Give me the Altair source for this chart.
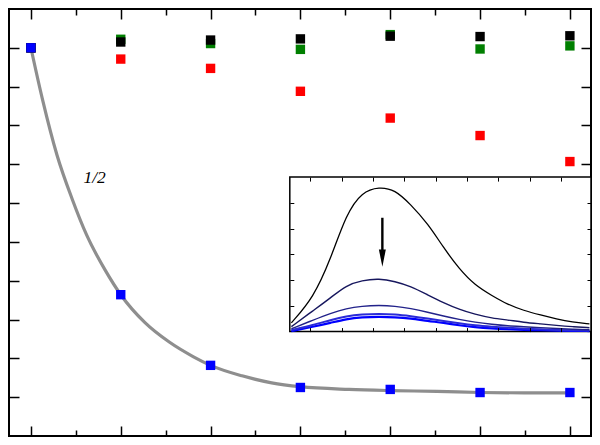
import altair as alt
import pandas as pd

# ---------------- main panel data ----------------
x_idx = [0, 1, 2, 3, 4, 5, 6]
blue_y = [1.000, 0.364, 0.182, 0.125, 0.120, 0.112, 0.112]
black_y = [1.000, 1.015, 1.020, 1.023, 1.030, 1.029, 1.031]
green_y = [1.000, 1.022, 1.011, 0.996, 1.034, 0.997, 1.005]
red_y = [1.000, 0.971, 0.947, 0.888, 0.819, 0.774, 0.707]

# grey fit curve
fit_x = [0, 0.13, 0.29, 0.46, 0.62, 0.83, 1.0, 1.27, 1.54, 1.81, 2.0, 2.35,
         2.68, 3.0, 3.54, 4.0, 4.52, 5.0, 5.49, 6.0]
fit_y = [1.000, 0.866, 0.724, 0.610, 0.518, 0.426, 0.364, 0.292, 0.242, 0.204,
         0.182, 0.155, 0.137, 0.127, 0.120, 0.117, 0.115, 0.112, 0.111, 0.111]

label_text = ["1/2"]
label_x = [0.71]
label_y = [0.665]

x_ticks = [0, 0.5, 1, 1.5, 2, 2.5, 3, 3.5, 4, 4.5, 5, 5.5, 6]
y_ticks = [0.1, 0.2, 0.3, 0.4, 0.5, 0.6, 0.7, 0.8, 0.9, 1.0]

# ---------------- inset data ----------------
wl = [428, 442, 453, 463, 473, 484, 494, 504, 515, 525, 535, 545, 556, 566,
      576, 587, 597, 607, 618]
spec1 = [0.34, 1.31, 2.81, 4.57, 5.43, 5.62, 5.51, 4.94, 4.19, 3.26, 2.43,
         1.80, 1.39, 1.05, 0.82, 0.64, 0.49, 0.37, 0.30]
spec2 = [0.19, 0.82, 1.31, 1.80, 1.99, 2.06, 1.95, 1.76, 1.42, 1.12, 0.86,
         0.67, 0.52, 0.45, 0.36, 0.30, 0.24, 0.19, 0.15]
spec3 = [0.11, 0.45, 0.71, 0.90, 0.99, 1.02, 0.99, 0.90, 0.75, 0.60, 0.47,
         0.36, 0.28, 0.22, 0.19, 0.15, 0.12, 0.09, 0.07]
spec4 = [0.06, 0.26, 0.45, 0.60, 0.67, 0.69, 0.67, 0.60, 0.51, 0.41, 0.32,
         0.24, 0.19, 0.15, 0.11, 0.09, 0.06, 0.05, 0.04]
spec5 = [0.02, 0.19, 0.34, 0.49, 0.56, 0.58, 0.56, 0.51, 0.41, 0.34, 0.24,
         0.17, 0.12, 0.09, 0.07, 0.05, 0.04, 0.03, 0.02]
inset_x_ticks = [440, 460, 480, 500, 520, 540, 560, 580, 600]
inset_y_ticks = [1, 2, 3, 4, 5]
arrow_x = [486]
arrow_top = [4.42]
arrow_end = [3.10]
arrow_head = [2.85]

# ---------------- layout ----------------
W, H = 582, 427
XD = [-0.244, 6.235]
YD = [0.0, 1.1]
IXD = [427, 619]
IYD = [0, 6]
# inset box in main-data units
INSET_LEFT, INSET_BOTTOM, INSET_TOP = 2.882, 0.269, 0.667


def px(v):
    return (v - XD[0]) / (XD[1] - XD[0]) * W


def py(v):
    return H - (v - YD[0]) / (YD[1] - YD[0]) * H


xl, xr = px(INSET_LEFT), W
yb, yt = py(INSET_BOTTOM), py(INSET_TOP)

xs = alt.Scale(domain=XD, nice=False, zero=False)
ys = alt.Scale(domain=YD, nice=False, zero=False)
ixs = alt.Scale(domain=IXD, range=[xl, xr], nice=False, zero=False)
iys = alt.Scale(domain=IYD, range=[yb, yt], nice=False, zero=False)

common = dict(labels=False, title=None, domain=False, grid=False,
              tickColor="black")
xsize = {"condition": {"test": "datum.value % 1 === 0", "value": 10}, "value": 6}

# ---------------- main layers ----------------
fit_df = pd.DataFrame({"x": fit_x, "y": fit_y})
fit = alt.Chart(fit_df).mark_line(color="#8e8e8e", strokeWidth=3.2,
                                  interpolate="monotone").encode(
    x=alt.X("x:Q", scale=xs,
            axis=alt.Axis(orient="top", offset=-H, values=x_ticks,
                          tickSize=xsize, tickWidth=1.5, **common)),
    y=alt.Y("y:Q", scale=ys,
            axis=alt.Axis(orient="right", offset=-W, values=y_ticks,
                          tickSize=10, tickWidth=1.5, **common)),
)

rows = []
for name, vals, rank in [("red", red_y, 0), ("green", green_y, 1),
                         ("black", black_y, 2), ("blue", blue_y, 3)]:
    for xv, yv in zip(x_idx, vals):
        rows.append({"x": xv, "y": yv, "s": name, "r": rank})
pts_df = pd.DataFrame(rows)
pts = alt.Chart(pts_df).mark_square(size=88, filled=True, opacity=1).encode(
    x=alt.X("x:Q", scale=xs,
            axis=alt.Axis(orient="bottom", offset=-H, values=x_ticks,
                          tickSize=xsize, tickWidth=1.5, **common)),
    y=alt.Y("y:Q", scale=ys,
            axis=alt.Axis(orient="left", offset=-W, values=y_ticks,
                          tickSize=10, tickWidth=1.5, **common)),
    color=alt.Color("s:N", legend=None,
                    scale=alt.Scale(domain=["red", "green", "black", "blue"],
                                    range=["#ff0000", "#007f00", "#000000", "#0000ff"])),
    order=alt.Order("r:Q"),
)

txt_df = pd.DataFrame({"x": label_x, "y": label_y, "t": label_text})
txt = alt.Chart(txt_df).mark_text(font="Liberation Serif", fontStyle="italic",
                                  fontSize=17.5, color="black").encode(
    x=alt.X("x:Q", scale=xs, axis=None),
    y=alt.Y("y:Q", scale=ys, axis=None),
    text="t:N",
)

main = alt.layer(fit, pts, txt).resolve_axis(x="independent", y="independent")

# ---------------- inset layers ----------------
frame_df = pd.DataFrame({"x": [IXD[0]], "x2": [IXD[1]], "y": [IYD[0]], "y2": [IYD[1]]})
frame = alt.Chart(frame_df).mark_rect(fill="white", stroke="black",
                                      strokeWidth=1.5).encode(
    x=alt.X("x:Q", scale=ixs,
            axis=alt.Axis(orient="top", offset=-yb, values=inset_x_ticks,
                          tickSize=4, tickWidth=1, zindex=1, **common)),
    x2="x2:Q",
    y=alt.Y("y:Q", scale=iys,
            axis=alt.Axis(orient="right", offset=-(W - xl), values=inset_y_ticks,
                          tickSize=4, tickWidth=1, zindex=1, **common)),
    y2="y2:Q",
)

curves = []
styles = [(spec5, "#0000ff", 2.2), (spec4, "#2a2ad8", 2.0), (spec3, "#22228a", 1.4),
          (spec2, "#17175e", 1.4), (spec1, "#000000", 1.3)]
for i, (vals, col, sw) in enumerate(styles):
    df = pd.DataFrame({"x": wl, "y": vals})
    if i == len(styles) - 1:
        xa = alt.Axis(orient="bottom", offset=-(H - yt), values=inset_x_ticks,
                      tickSize=4, tickWidth=1, zindex=1, **common)
        ya = alt.Axis(orient="left", offset=-xr, values=inset_y_ticks,
                      tickSize=4, tickWidth=1, zindex=1, **common)
    else:
        xa = None
        ya = None
    curves.append(alt.Chart(df).mark_line(color=col, strokeWidth=sw,
                                          interpolate="basis").encode(
        x=alt.X("x:Q", scale=ixs, axis=xa),
        y=alt.Y("y:Q", scale=iys, axis=ya),
    ))

arr_df = pd.DataFrame({"x": arrow_x, "y": arrow_top, "y2": arrow_end, "h": arrow_head})
arrow_line = alt.Chart(arr_df).mark_rule(color="black", strokeWidth=2.4).encode(
    x=alt.X("x:Q", scale=ixs, axis=None),
    y=alt.Y("y:Q", scale=iys, axis=None),
    y2="y2:Q",
)
arrow_tip = alt.Chart(arr_df).mark_point(
    shape="M-0.4,-1L0.4,-1L0,1Z", size=300, filled=True, color="black",
    opacity=1, strokeWidth=0).encode(
    x=alt.X("x:Q", scale=ixs, axis=None),
    y=alt.Y("h:Q", scale=iys, axis=None),
)

inset = alt.layer(frame, *curves, arrow_line, arrow_tip).resolve_axis(
    x="independent", y="independent")

chart = alt.layer(main, inset).resolve_scale(
    x="independent", y="independent", color="independent"
).resolve_axis(x="independent", y="independent").properties(
    width=W, height=H, padding=1, autosize="none"
).configure_view(stroke="black", strokeWidth=2)

chart.save("out.html", embed_options={"renderer": "svg", "actions": False})
